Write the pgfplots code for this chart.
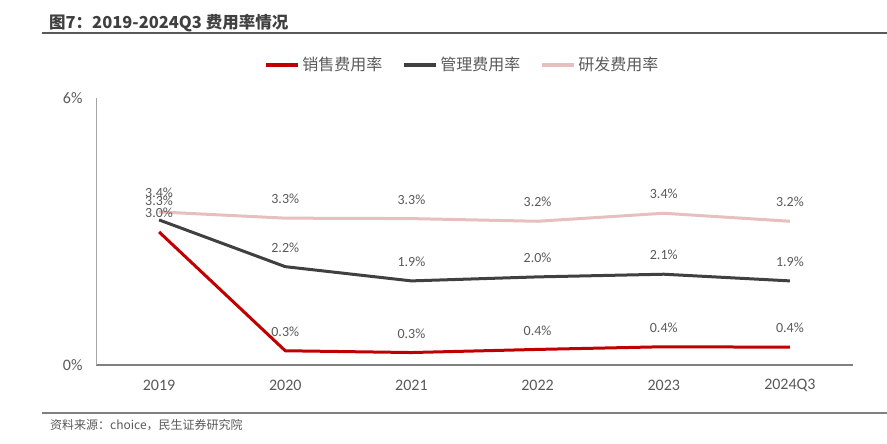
\documentclass[border=0pt]{standalone}
\usepackage{fontspec}
\setmainfont{Carlito}
\newfontfamily\cjk{Noto Sans CJK SC}
\usepackage{pgfplots}
\pgfplotsset{compat=1.18}
\usepackage{xcolor}

\definecolor{cRed}{HTML}{C00000}
\definecolor{cGrey}{HTML}{404040}
\definecolor{cPink}{HTML}{E8BFBF}
\definecolor{cText}{HTML}{595959}
\definecolor{cTitle}{HTML}{404040}

\begin{document}
\begin{tikzpicture}
\useasboundingbox (0,0) rectangle (887bp,444bp);

% title and rules
\node[anchor=west, inner sep=0pt, text=cTitle, font=\cjk\bfseries\fontsize{16.5bp}{19bp}\selectfont]
  at (49bp,421bp) {图7：2019-2024Q3 费用率情况};
\draw[line width=1.5bp, color=black!65] (42bp,411bp) -- (887bp,411bp);
\draw[line width=1.5bp, color=black!50] (42bp,31bp) -- (887bp,31bp);
\node[anchor=west, inner sep=0pt, text=cText, font=\cjk\fontsize{12bp}{14bp}\selectfont]
  at (50bp,19bp) {资料来源：choice，民生证券研究院};

\begin{axis}[
    at={(96bp,79bp)}, anchor=south west,
    scale only axis,
    width=757bp, height=267bp,
    xmin=-0.5, xmax=5.5,
    ymin=0, ymax=6,
    axis x line*=bottom,
    axis y line*=left,
    x axis line style={-, draw=black!50, line width=1.3bp},
    y axis line style={-, draw=black!35, line width=1bp},
    xtick={0,1,2,3,4,5},
    xticklabels={2019,2020,2021,2022,2023,2024Q3},
    ytick={0,6},
    yticklabels={0\%,6\%},
    major tick length=0pt,
    tick label style={text=cText, font=\fontsize{16bp}{19bp}\selectfont},
    xticklabel style={anchor=center, yshift=-20bp},
    yticklabel style={xshift=-10bp},
    clip=false,
    line join=round,
    point meta=explicit symbolic,
    nodes near coords={\pgfplotspointmeta\%},
    nodes near coords style={anchor=center, yshift=19bp, text=cText,
        font=\fontsize{14bp}{17bp}\selectfont, inner sep=0pt},
    legend columns=3,
    legend style={at={(0.484,1.124)}, anchor=center, draw=none, fill=none,
        inner sep=0pt, text=cText, font=\cjk\fontsize{16bp}{19bp}\selectfont,
        nodes={inner sep=2bp},
        /tikz/every even column/.append style={column sep=18bp}},
    legend image code/.code={\draw[#1, line width=4bp] (0bp,0bp) -- (32bp,0bp);},
]

\addplot[cRed, line width=3bp] table[meta=lab] {
x y lab
0 2.99 3.0
1 0.32 0.3
2 0.28 0.3
3 0.35 0.4
4 0.41 0.4
5 0.40 0.4
};
\addlegendentry{销售费用率}

\addplot[cGrey, line width=3bp] table[meta=lab] {
x y lab
0 3.26 3.3
1 2.21 2.2
2 1.89 1.9
3 1.98 2.0
4 2.04 2.1
5 1.89 1.9
};
\addlegendentry{管理费用率}

\addplot[cPink, line width=3bp] table[meta=lab] {
x y lab
0 3.44 3.4
1 3.30 3.3
2 3.29 3.3
3 3.23 3.2
4 3.41 3.4
5 3.23 3.2
};
\addlegendentry{研发费用率}

\end{axis}
\end{tikzpicture}
\end{document}
